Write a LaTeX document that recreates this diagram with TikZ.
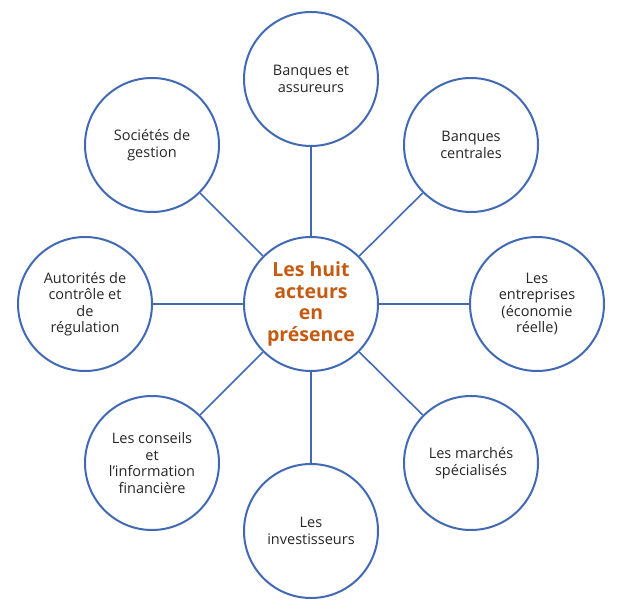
\documentclass[tikz,border=0pt]{standalone}
\usepackage{fontspec}
\setmainfont{Open Sans}
\definecolor{cblue}{HTML}{4169B4}
\definecolor{corange}{HTML}{C55A11}
\begin{document}
\begin{tikzpicture}[x=1pt,y=1pt,
  actor/.style={circle,draw=cblue,line width=2pt,minimum size=134pt,inner sep=0pt,align=center,font=\fontsize{14.5}{16.5}\selectfont,text=black!85},
  hub/.style={actor,font=\fontsize{19.5}{21.5}\selectfont\bfseries,text=corange},
  link/.style={draw=cblue,line width=1.6pt}]
\useasboundingbox (0,0) rectangle (623,613);
\node[hub] (c) at (311,309) {Les huit\\acteurs\\en\\présence};
\node[actor] (n) at (311,534) {Banques et\\assureurs};
\node[actor] (ne) at (471,468) {Banques\\centrales};
\node[actor] (e) at (537,309) {Les\\entreprises\\(économie\\réelle)};
\node[actor] (se) at (471,150) {Les marchés\\spécialisés};
\node[actor] (s) at (311,82) {Les\\investisseurs};
\node[actor] (sw) at (152,150) {Les conseils\\et\\l'information\\financière};
\node[actor] (w) at (85,309) {Autorités de\\contrôle et\\de\\régulation};
\node[actor] (nw) at (152,468) {Sociétés de\\gestion};
\foreach \t in {n,ne,e,se,s,sw,w,nw} \draw[link] (c) -- (\t);
\end{tikzpicture}
\end{document}
